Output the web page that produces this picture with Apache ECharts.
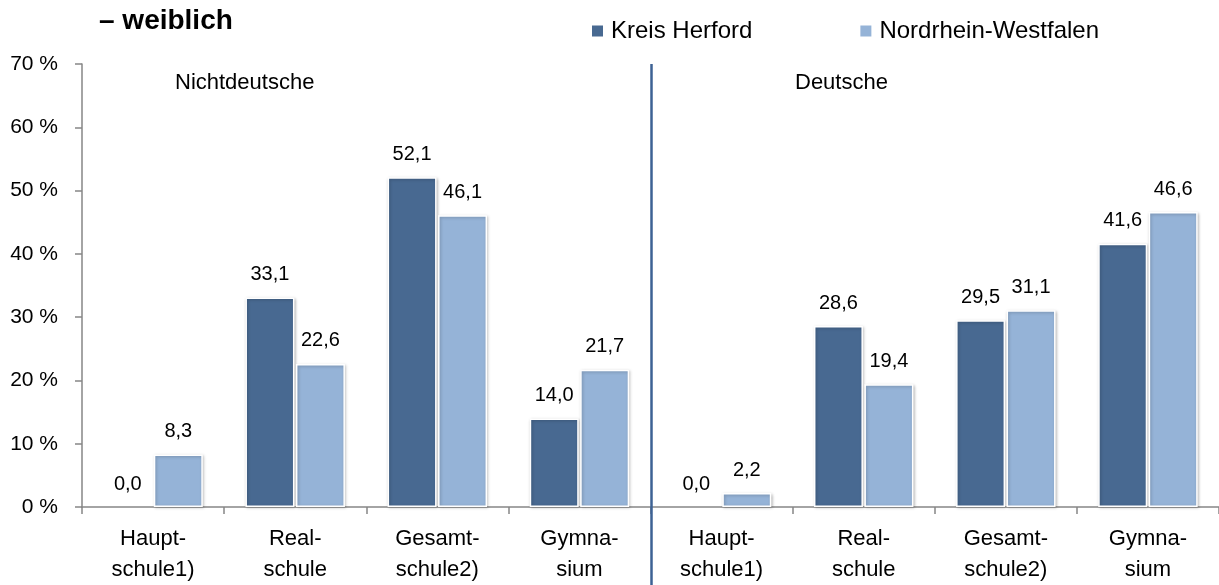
<!DOCTYPE html>
<html>
<head>
<meta charset="utf-8">
<script src="https://cdn.jsdelivr.net/npm/echarts@6/dist/echarts.min.js"></script>
<style>
    html, body { margin: 0; padding: 0; background: #fff; }
    #chart { width: 1219px; height: 585px; }
</style>
</head>
<body>
<div id="chart"></div>
<script>
'use strict'

const categories = [
    'Haupt-\nschule1)', 'Real-\nschule', 'Gesamt-\nschule2)', 'Gymna-\nsium',
    'Haupt-\nschule1)', 'Real-\nschule', 'Gesamt-\nschule2)', 'Gymna-\nsium'
]
const kreisHerford = [0.0, 33.1, 52.1, 14.0, 0.0, 28.6, 29.5, 41.6]
const nrw = [8.3, 22.6, 46.1, 21.7, 2.2, 19.4, 31.1, 46.6]
const groups = ['Nichtdeutsche', 'Deutsche']
const seriesNames = ['Kreis Herford', 'Nordrhein-Westfalen']
const colors = ['#486991', '#95b3d7']

const font = '"Liberation Sans", Arial, sans-serif'
const gridLeft = 82
const gridTop = 64
const gridWidth = 1139
const gridBottom = 74

function fmt(v) {
    return v.toFixed(1).replace('.', ',')
}

// zero bars: no border / shadow, only the label stays
function barData(arr) {
    return arr.map(v => v === 0 ? {
        value: v,
        itemStyle: { borderWidth: 0, shadowBlur: 0, shadowOffsetX: 0, shadowOffsetY: 0, shadowColor: 'rgba(0,0,0,0)' }
    } : v)
}

const option = {
    animation: false,
    color: colors,
    title: {
        text: '\u2013 weiblich',
        left: 94,
        top: 2,
        textStyle: {
            fontFamily: font,
            fontSize: 28,
            fontWeight: 'bold',
            color: '#000'
        }
    },
    legend: {
        left: 585,
        top: 14,
        itemWidth: 13,
        itemHeight: 13,
        itemGap: 106,
        icon: 'rect',
        textStyle: {
            fontFamily: font,
            fontSize: 24,
            color: '#000',
            padding: [0, 0, 0, 2]
        },
        data: seriesNames
    },
    grid: {
        left: gridLeft,
        top: gridTop,
        width: gridWidth,
        bottom: gridBottom,
        containLabel: false
    },
    xAxis: {
        type: 'category',
        data: categories,
        axisLine: { lineStyle: { color: '#868686', width: 1.5 } },
        axisTick: { show: true, length: 7, lineStyle: { color: '#868686', width: 1.5 } },
        axisLabel: {
            interval: 0,
            margin: 16,
            fontFamily: font,
            fontSize: 22,
            lineHeight: 31,
            color: '#000'
        }
    },
    yAxis: {
        type: 'value',
        min: 0,
        max: 70,
        interval: 10,
        splitLine: { show: false },
        axisLine: { show: true, lineStyle: { color: '#868686', width: 1.5 } },
        axisTick: { show: true, length: 7, lineStyle: { color: '#868686', width: 1.5 } },
        axisLabel: {
            margin: 24,
            fontFamily: font,
            fontSize: 21,
            color: '#000',
            formatter: '{value} %'
        }
    },
    series: [kreisHerford, nrw].map((d, k) => {
        return {
            name: seriesNames[k],
            type: 'bar',
            data: barData(d),
            barWidth: 49,
            barGap: '3%',
            itemStyle: {
                color: colors[k],
                borderColor: '#fff',
                borderWidth: 1.5,
                shadowColor: 'rgba(0,0,0,0.25)',
                shadowBlur: 3,
                shadowOffsetX: 1,
                shadowOffsetY: 1
            },
            label: {
                show: true,
                position: 'top',
                distance: 13,
                fontFamily: font,
                fontSize: 20,
                color: '#000',
                formatter: p => fmt(p.value)
            }
        }
    }),
    graphic: [
        {
            type: 'line',
            shape: { x1: gridLeft + gridWidth / 2, y1: gridTop, x2: gridLeft + gridWidth / 2, y2: 585 },
            style: { stroke: '#3d6294', lineWidth: 2.5 },
            z: 10
        },
        {
            type: 'text',
            left: 175,
            top: 72,
            style: { text: groups[0], font: '22px ' + font, fill: '#000' }
        },
        {
            type: 'text',
            left: 795,
            top: 72,
            style: { text: groups[1], font: '22px ' + font, fill: '#000' }
        }
    ]
}

const chart = echarts.init(document.getElementById('chart'))
chart.setOption(option)
</script>
</body>
</html>
